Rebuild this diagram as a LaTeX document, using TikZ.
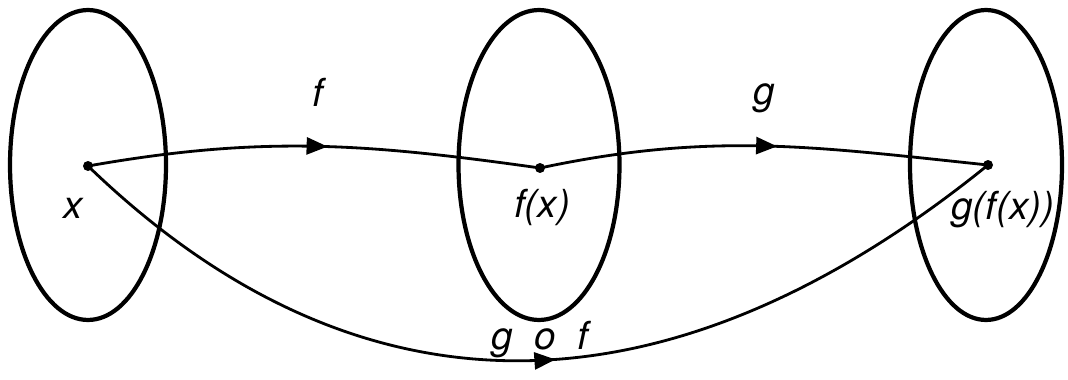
\documentclass[tikz,border=0pt]{standalone}
\usepackage{fontspec}
\setmainfont{TeX Gyre Heros}
\usetikzlibrary{arrows.meta, positioning, shapes.geometric, decorations.markings}

\begin{document}
\begin{tikzpicture}[
  x=0.02cm, y=0.02cm,
  setshape/.style={ellipse, draw, line width=2.4pt, inner sep=0pt, minimum height=6.2cm},
  pointdot/.style={circle, fill, inner sep=0pt, minimum size=0.2cm},
  lbl/.style={font=\fontsize{22}{26}\selectfont\itshape, inner sep=0pt, anchor=base},
  maparrow/.style={line width=1.6pt, decoration={markings,
      mark=at position #1 with {\arrow{Triangle[length=0.42cm, width=0.34cm]}}},
    postaction={decorate}},
  maparrow/.default=0.52
]
  \useasboundingbox (0,0) rectangle (1068,379);

  % sets
  \node[setshape, minimum width=3.12cm] (domX) at (88,214) {};
  \node[setshape, minimum width=3.22cm] (domY) at (539,214) {};
  \node[setshape, minimum width=3.04cm] (domZ) at (986,214) {};

  % points
  \node[pointdot] (ptx) at (88,213) {};
  \node[pointdot] (ptfx) at (540,211) {};
  \node[pointdot] (ptgfx) at (988,214) {};

  % labels
  \node[lbl] (labx) at (73,161) {x};
  \node[lbl] (labfx) at (542,162) {f(x)};
  \node[lbl] (labgfx) at (1003,159) {g(f(x))};
  \node[lbl] (labf) at (318,272) {f};
  \node[lbl] (labg) at (764,274) {g};
  \node[lbl] (labgof) at (540,30) {g~~o~~f};

  % maps
  \draw[maparrow=0.53] (ptx.center) to[out=10, in=172] (ptfx.center);
  \draw[maparrow=0.53] (ptfx.center) to[out=12, in=174] (ptgfx.center);
  \draw[maparrow=0.52] (ptx.center) to[out=-44, in=219, looseness=1.12] (ptgfx.center);

\end{tikzpicture}
\end{document}
